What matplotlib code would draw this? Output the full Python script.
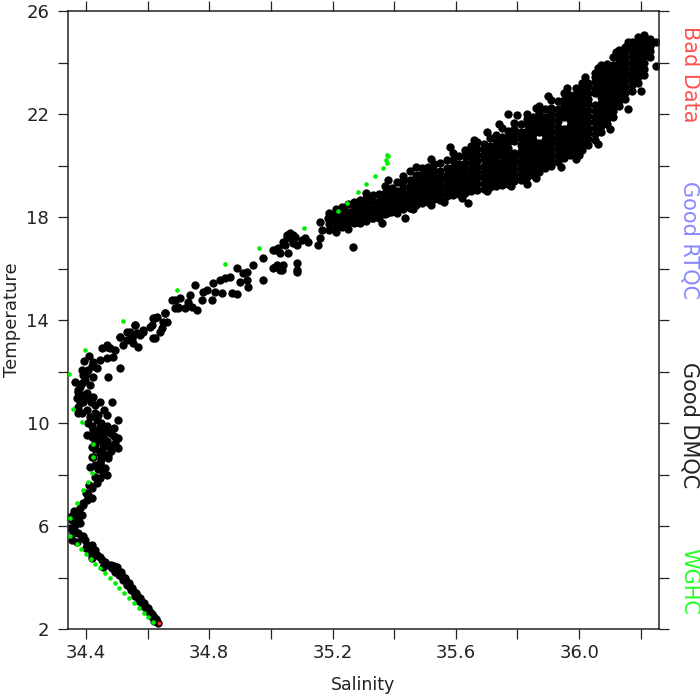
import matplotlib
matplotlib.use("Agg")
import matplotlib.pyplot as plt
from matplotlib.ticker import MultipleLocator, FixedLocator

# ---- data (salinity, temperature) ----

# deep part, tight line near the bottom
deep_sal = [34.633, 34.626, 34.620, 34.613, 34.607, 34.600, 34.594, 34.587,
            34.581, 34.575, 34.568, 34.562, 34.555, 34.549, 34.542, 34.536,
            34.529, 34.523, 34.516, 34.510, 34.503, 34.497, 34.490,
            34.622, 34.610, 34.597, 34.584, 34.571, 34.558, 34.545, 34.532,
            34.519, 34.506, 34.493, 34.480,
            34.629, 34.616, 34.603, 34.590, 34.577, 34.564, 34.551, 34.539,
            34.526, 34.513, 34.500]
deep_temp = [2.25, 2.35, 2.45, 2.55, 2.65, 2.75, 2.85, 2.95,
             3.05, 3.15, 3.25, 3.35, 3.45, 3.55, 3.65, 3.75,
             3.85, 3.95, 4.05, 4.15, 4.25, 4.35, 4.45,
             2.30, 2.50, 2.70, 2.90, 3.10, 3.30, 3.50, 3.70,
             3.90, 4.10, 4.30, 4.50,
             2.40, 2.60, 2.80, 3.00, 3.20, 3.40, 3.60, 3.80,
             4.00, 4.20, 4.40]

# 4 - 9 degC, the salinity minimum
low_sal = [34.430, 34.456, 34.478, 34.494, 34.446, 34.469, 34.420, 34.430,
           34.446, 34.472, 34.413, 34.456, 34.469, 34.446, 34.436, 34.420,
           34.407, 34.404, 34.391, 34.420, 34.381, 34.371, 34.358, 34.355,
           34.374, 34.387, 34.365, 34.348, 34.358, 34.374, 34.387, 34.355,
           34.371, 34.397, 34.404, 34.420, 34.413, 34.430, 34.436, 34.446,
           34.420, 34.452, 34.462, 34.472, 34.456, 34.485, 34.494,
           34.400, 34.410, 34.430, 34.390, 34.380, 34.360, 34.370, 34.390,
           34.400, 34.410, 34.430, 34.440, 34.450, 34.480, 34.350, 34.362]
low_temp = [9.23, 9.15, 9.07, 9.23, 8.84, 8.76, 8.68, 8.37,
            8.45, 8.64, 8.29, 8.10, 7.98, 7.87, 7.67, 7.48,
            7.21, 7.01, 6.82, 7.09, 6.70, 6.55, 6.43, 6.24,
            6.31, 6.43, 6.04, 5.92, 5.73, 5.73, 5.57, 5.46,
            5.38, 5.46, 5.26, 5.26, 5.07, 5.07, 4.88, 4.80,
            4.76, 4.68, 4.60, 4.49, 4.41, 4.37, 4.22,
            5.15, 5.00, 4.90, 5.60, 6.10, 6.60, 6.20, 6.90,
            7.30, 7.60, 7.90, 8.20, 8.60, 8.90, 6.35, 5.85]

# 9 - 14 degC, bulge and turn towards higher salinity
mid_sal = [34.689, 34.699, 34.657, 34.663, 34.624, 34.615, 34.640, 34.618,
           34.585, 34.576, 34.559, 34.543, 34.550, 34.533, 34.520, 34.511,
           34.494, 34.478, 34.469, 34.452, 34.488, 34.469, 34.446, 34.423,
           34.436, 34.407, 34.391, 34.423, 34.387, 34.413, 34.374, 34.404,
           34.371, 34.391, 34.374, 34.404, 34.423, 34.430, 34.446, 34.485,
           34.472, 34.511, 34.387, 34.413, 34.407, 34.436, 34.423, 34.446,
           34.404, 34.436, 34.456, 34.478, 34.469, 34.504, 34.504, 34.504,
           34.452, 34.423, 34.472, 34.446, 34.462, 34.420, 34.420, 34.381,
           34.374, 34.397, 34.387,
           34.430, 34.440, 34.450, 34.460, 34.470, 34.430, 34.415, 34.400,
           34.380, 34.390, 34.400, 34.420, 34.490, 34.490, 34.470, 34.460,
           34.440, 34.420, 34.450, 34.470, 34.460, 34.430, 34.365, 34.375,
           34.385, 34.395, 34.410]
mid_temp = [14.78, 14.47, 14.27, 13.92, 14.08, 13.81, 13.54, 13.30,
            13.61, 13.42, 13.81, 13.54, 13.34, 13.22, 13.03, 13.34,
            12.84, 12.91, 13.03, 12.91, 12.56, 12.53, 12.45, 12.37,
            12.14, 12.06, 11.87, 11.79, 11.56, 11.48, 11.28, 11.17,
            10.97, 10.82, 10.62, 10.51, 11.01, 10.70, 10.82, 10.82,
            11.79, 12.14, 10.39, 10.24, 10.00, 10.12, 9.73, 9.85,
            9.54, 9.34, 9.46, 9.61, 9.23, 10.12, 9.42, 9.04,
            8.96, 8.68, 8.76, 8.45, 8.25, 9.07, 9.46, 10.82,
            11.21, 11.67, 12.06,
            9.00, 9.60, 10.00, 9.10, 9.90, 10.40, 10.80, 11.00,
            11.40, 11.10, 11.90, 12.20, 9.50, 9.80, 10.30, 10.50,
            10.30, 9.90, 9.40, 9.30, 9.70, 9.20, 11.60, 10.40,
            11.00, 12.40, 12.60]

# 13 - 19.5 degC, thermocline, sparse profiles
thermo_sal = [34.469, 34.511, 34.533, 34.550, 34.553, 34.566, 34.559, 34.569,
              34.585, 34.608, 34.618, 34.631, 34.624, 34.647, 34.650, 34.657,
              34.679, 34.689, 34.699, 34.705, 34.722, 34.731, 34.738, 34.744,
              34.754, 34.760, 34.777, 34.780, 34.793, 34.809, 34.812, 34.819,
              34.835, 34.842, 34.851, 34.868, 34.874, 34.890, 34.890, 34.900,
              34.910, 34.923, 34.926, 34.923, 34.942, 34.975, 34.975, 35.007,
              35.014, 35.020, 35.030, 35.036, 35.039, 35.052, 35.056, 35.062,
              35.072, 35.085, 35.072,
              35.007, 35.023, 35.046, 35.052, 35.062, 35.078, 35.085, 35.101,
              35.111, 35.121, 35.014, 35.030, 35.039, 35.085, 35.085, 35.153,
              35.160, 35.166, 35.160, 35.185, 35.202, 35.218, 35.224, 35.234,
              35.247, 35.267, 35.280, 35.296, 35.312, 35.322, 35.328, 35.344,
              35.361, 35.377, 35.393, 35.409, 35.426, 35.435, 35.442, 35.458,
              35.474, 35.477, 35.267]
thermo_temp = [12.95, 13.34, 13.54, 13.30, 13.11, 13.50, 13.81, 12.95,
               13.54, 13.73, 14.08, 14.12, 13.30, 13.69, 13.92, 14.27,
               14.78, 14.47, 14.51, 14.86, 14.47, 14.70, 14.97, 14.51,
               15.36, 14.39, 14.78, 15.09, 15.17, 14.78, 15.44, 15.09,
               15.55, 15.05, 15.63, 15.67, 15.05, 16.02, 15.01, 15.48,
               15.83, 15.87, 15.28, 15.55, 16.14, 16.41, 15.55, 16.02,
               16.72, 16.14, 16.60, 15.94, 17.03, 17.22, 16.60, 17.38,
               16.99, 15.94, 17.30,
               16.72, 16.80, 16.91, 17.30, 17.19, 17.22, 16.91, 17.11,
               17.19, 17.03, 16.06, 15.94, 16.14, 16.21, 15.87, 16.91,
               17.19, 17.50, 17.81, 17.96, 18.08, 17.88, 17.69, 18.27,
               17.96, 18.16, 17.81, 18.08, 18.27, 18.66, 17.96, 18.19,
               18.39, 18.16, 19.13, 18.54, 18.93, 17.96, 18.54, 18.86,
               19.63, 18.66, 16.84]

# dense upper cloud: temperatures read per salinity column
cloud = {
    35.19: [17.5, 17.72, 17.9, 18.15],
    35.21: [17.4, 17.63, 17.85, 18.05, 18.3],
    35.23: [17.6, 17.8, 18.02, 18.2, 18.4],
    35.25: [17.55, 17.78, 17.97, 18.18, 18.5],
    35.27: [17.75, 17.95, 18.17, 18.38, 18.6],
    35.29: [17.75, 18.0, 18.2, 18.43, 18.65],
    35.31: [17.85, 18.08, 18.3, 18.5, 18.72, 18.95],
    35.33: [17.95, 18.15, 18.36, 18.6, 18.85],
    35.35: [17.95, 18.2, 18.42, 18.63, 18.9],
    35.37: [18.1, 18.3, 18.52, 18.75, 18.95, 19.2],
    35.39: [18.2, 18.4, 18.62, 18.85, 19.1],
    35.41: [18.15, 18.38, 18.6, 18.8, 19.02, 19.35],
    35.43: [18.3, 18.52, 18.73, 18.95, 19.15, 19.4],
    35.45: [18.35, 18.57, 18.8, 19.0, 19.22, 19.45, 19.8],
    35.47: [18.45, 18.65, 18.88, 19.1, 19.33, 19.6],
    35.49: [18.55, 18.75, 18.97, 19.2, 19.4, 19.62, 19.9],
    35.51: [18.6, 18.82, 19.05, 19.25, 19.48, 19.7, 19.95],
    35.53: [18.7, 18.9, 19.12, 19.35, 19.55, 19.8, 20.05],
    35.55: [18.65, 18.9, 19.1, 19.33, 19.55, 19.77, 20.1],
    35.57: [18.8, 19.0, 19.22, 19.45, 19.65, 19.9, 20.2],
    35.59: [18.85, 19.07, 19.3, 19.5, 19.72, 19.95, 20.2, 20.5],
    35.61: [18.9, 19.12, 19.35, 19.55, 19.8, 20.05, 20.35],
    35.63: [18.95, 19.17, 19.4, 19.62, 19.85, 20.1, 20.35, 20.6],
    35.65: [19.0, 19.2, 19.43, 19.65, 19.88, 20.1, 20.32, 20.55, 20.75],
    35.67: [19.05, 19.27, 19.5, 19.72, 19.95, 20.17, 20.4, 20.65, 20.9],
    35.69: [19.1, 19.33, 19.55, 19.78, 20.0, 20.25, 20.45, 20.65, 20.85],
    35.71: [19.15, 19.37, 19.6, 19.82, 20.05, 20.3, 20.5, 20.75, 21.05],
    35.73: [19.2, 19.42, 19.65, 19.87, 20.1, 20.35, 20.55, 20.78, 21.0,
            21.2],
    35.75: [19.25, 19.47, 19.7, 19.92, 20.15, 20.38, 20.6, 20.85, 21.1,
            21.45],
    35.77: [19.3, 19.52, 19.75, 19.97, 20.2, 20.42, 20.67, 20.9, 21.12,
            21.35, 22.0],
    35.79: [19.4, 19.6, 19.82, 20.05, 20.27, 20.5, 20.95, 21.2, 21.4,
            21.65],
    35.81: [19.45, 19.67, 19.9, 20.12, 20.35, 20.57, 20.8, 21.05, 21.3,
            21.6],
    35.83: [19.3, 19.55, 19.77, 20.0, 20.22, 20.45, 20.67, 20.9, 21.12,
            21.35, 21.6, 21.8, 22.0],
    35.85: [19.65, 19.87, 20.1, 20.32, 20.55, 20.77, 21.0, 21.22, 21.45,
            21.68, 21.9],
    35.87: [19.75, 19.97, 20.2, 20.42, 20.65, 20.87, 21.32, 21.55, 21.8,
            22.05, 22.3],
    35.89: [19.9, 20.1, 20.33, 20.55, 20.78, 21.0, 21.22, 21.45, 21.68,
            21.9, 22.2],
    35.91: [20.0, 20.22, 20.45, 20.67, 20.9, 21.12, 21.35, 21.57, 21.8,
            22.02, 22.25, 22.55],
    35.93: [20.15, 20.37, 20.6, 20.82, 21.05, 21.27, 21.5, 21.72, 21.95,
            22.2, 22.5],
    35.95: [20.3, 20.52, 20.75, 20.97, 21.2, 21.42, 21.87, 22.1, 22.35,
            22.55, 22.8],
    35.97: [20.4, 20.62, 20.85, 21.07, 21.3, 21.52, 21.75, 21.97, 22.2,
            22.45, 22.75],
    35.99: [20.5, 20.72, 20.95, 21.17, 21.4, 21.62, 21.85, 22.07, 22.3,
            22.55, 22.78, 23.0],
    36.01: [20.6, 20.82, 21.05, 21.27, 21.5, 21.72, 21.95, 22.17, 22.4,
            22.62, 22.85, 23.05, 23.2],
    36.03: [20.8, 21.02, 21.25, 21.47, 21.7, 21.92, 22.15, 22.37, 22.6,
            22.82, 23.05, 23.2],
    36.05: [21.0, 21.22, 21.45, 21.67, 21.9, 22.12, 22.35, 22.8, 23.02,
            23.25, 23.45, 23.6],
    36.07: [21.3, 21.52, 21.75, 21.97, 22.2, 22.42, 22.65, 22.87, 23.1,
            23.32, 23.55, 23.75, 23.9],
    36.09: [21.6, 21.82, 22.05, 22.27, 22.5, 22.72, 22.95, 23.17, 23.4,
            23.62, 23.8, 23.95],
    36.11: [21.9, 22.12, 22.35, 22.57, 22.8, 23.02, 23.25, 23.47, 23.7,
            23.92, 24.2],
    36.13: [22.3, 22.52, 22.75, 22.97, 23.2, 23.42, 23.65, 23.87, 24.1,
            24.3, 24.5],
    36.15: [22.6, 22.82, 23.05, 23.27, 23.5, 23.72, 23.95, 24.17, 24.4,
            24.6],
    36.17: [22.9, 23.12, 23.35, 23.57, 23.8, 24.02, 24.25, 24.47, 24.65,
            24.8],
    36.19: [23.2, 23.42, 23.65, 23.87, 24.1, 24.32, 24.55, 24.75, 25.0],
    36.21: [23.5, 23.75, 24.0, 24.25, 24.5, 24.7, 24.9, 25.05],
    36.23: [24.2, 24.45, 24.65, 24.9],
    36.25: [23.85, 24.8],
}

# stray points along the upper and lower edges of the cloud
edge_sal = [35.43, 35.52, 35.58, 35.66, 35.70, 35.74, 35.80, 35.86,
            35.90, 35.96, 36.02, 36.06, 36.12, 36.16, 35.38, 35.47,
            35.46, 35.56, 35.62, 35.70, 35.78, 35.86, 35.94, 36.00,
            36.06, 36.10, 36.16, 36.20, 35.64, 35.36, 35.52, 35.99]
edge_temp = [19.6, 20.25, 20.7, 21.0, 21.3, 21.6, 21.95, 22.25,
             22.7, 23.0, 23.45, 23.8, 24.4, 24.8, 19.45, 19.95,
             18.3, 18.6, 18.75, 19.0, 19.2, 19.5, 19.95, 20.4,
             20.85, 21.4, 22.2, 22.9, 18.55, 17.75, 18.45, 20.25]

# WGHC climatology profile (green)
wghc_sal = [34.618, 34.603, 34.587, 34.572, 34.556, 34.540, 34.525, 34.509,
            34.493, 34.478, 34.462, 34.446, 34.431, 34.415, 34.399, 34.384,
            34.370, 34.350, 34.348, 34.371, 34.391, 34.407, 34.420, 34.423,
            34.423, 34.387, 34.358, 34.345, 34.397, 34.520, 34.695, 34.851,
            34.962, 35.107, 35.218, 35.247, 35.283, 35.309, 35.338, 35.364,
            35.372, 35.377, 35.379, 35.377]
wghc_temp = [2.27, 2.45, 2.64, 2.83, 3.02, 3.21, 3.40, 3.59,
             3.78, 3.97, 4.16, 4.35, 4.54, 4.73, 4.92, 5.11,
             5.30, 5.60, 6.30, 6.90, 7.40, 7.70, 8.05, 8.68,
             9.18, 10.04, 10.54, 11.90, 12.83, 13.96, 15.17, 16.17,
             16.80, 17.57, 18.23, 18.54, 18.97, 19.28, 19.59, 19.90,
             20.20, 20.10, 20.35, 20.40]

# bad data point at the deep end
bad_sal = [34.636]
bad_temp = [2.22]

# ---- build the DMQC set ----
dm_sal = deep_sal + low_sal + mid_sal + thermo_sal + edge_sal
dm_temp = deep_temp + low_temp + mid_temp + thermo_temp + edge_temp
for s, temps in cloud.items():
    dm_sal += [s] * len(temps)
    dm_temp += temps

fig = plt.figure(figsize=(7, 7), dpi=100)
ax = fig.add_axes([68 / 700, 1 - 629 / 700, 591 / 700, 618 / 700])

ax.scatter(dm_sal, dm_temp, s=36, c="black", linewidths=0, zorder=2)
ax.scatter(wghc_sal, wghc_temp, s=11, c="#00ee00", linewidths=0, zorder=3)
ax.scatter(bad_sal, bad_temp, s=8, c="#ff3030", linewidths=0, zorder=4)

ax.set_xlim(34.342, 36.259)
ax.set_ylim(2, 26)

# every 0.2 / 2 a tick, every other one labelled
ax.xaxis.set_major_locator(FixedLocator([34.4, 34.8, 35.2, 35.6, 36.0]))
ax.xaxis.set_minor_locator(MultipleLocator(0.2))
ax.yaxis.set_major_locator(MultipleLocator(4))
ax.yaxis.set_minor_locator(MultipleLocator(2))
ax.set_xticklabels(["34.4", "34.8", "35.2", "35.6", "36.0"])
ax.set_yticks([2, 6, 10, 14, 18, 22, 26])

ax.tick_params(which="both", direction="out", length=7.5, width=0.9,
               top=True, right=True, colors="#222222")
ax.tick_params(axis="x", which="major", pad=3, labelsize=13)
ax.tick_params(axis="y", which="major", pad=6, labelsize=13)
for sp in ax.spines.values():
    sp.set_linewidth(1.1)
    sp.set_color("#222222")

ax.set_xlabel("Salinity", fontsize=12.5, color="#222222")
ax.set_ylabel("Temperature", fontsize=13, color="#222222")
ax.xaxis.set_label_coords(0.5, -0.076)
ax.yaxis.set_label_coords(-0.079, 0.5)

# legend text down the right side
right_labels = [("Bad Data", "#ff5050", 0.894),
                ("Good RTQC", "#8888ff", 0.657),
                ("Good DMQC", "#222222", 0.393),
                ("WGHC", "#22ff22", 0.169)]
for txt, col, y in right_labels:
    fig.text(0.985, y, txt, rotation=270, color=col, fontsize=15,
             ha="center", va="center")

fig.savefig("out.png", dpi=100)
